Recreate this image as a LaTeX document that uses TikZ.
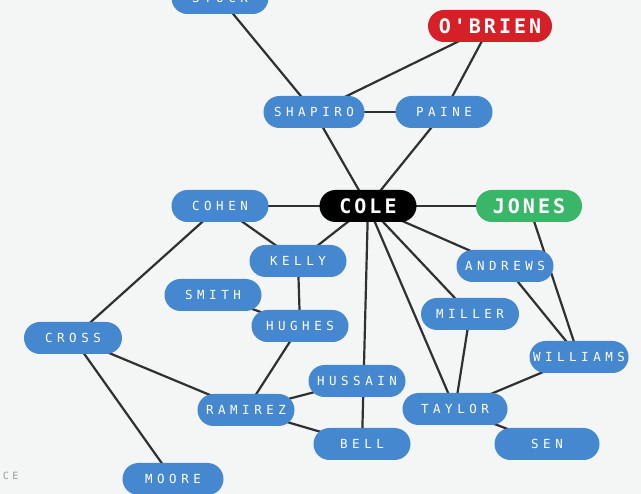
\documentclass[tikz,border=0pt]{standalone}
\usepackage{fontspec}
\usetikzlibrary{backgrounds}
\newfontfamily\pxfont[LetterSpace=36]{DejaVu Sans Mono}
\newfontfamily\pxbig[LetterSpace=15]{DejaVu Sans Mono}
\definecolor{bgc}{RGB}{244,246,246}
\definecolor{nblue}{RGB}{70,136,208}
\definecolor{nred}{RGB}{214,32,40}
\definecolor{ngreen}{RGB}{58,182,104}
\definecolor{lnk}{RGB}{48,48,48}

\begin{document}
\begin{tikzpicture}[
  x=1pt, y=-1pt,
  pn/.style={fill=nblue, text=white, rounded corners=16pt, inner sep=0pt,
    minimum width=97pt, minimum height=32pt,
    font=\pxfont\fontsize{12.5}{12.5}\selectfont},
  hub/.style={pn, font=\pxbig\bfseries\fontsize{20}{20}\selectfont},
  lk/.style={draw=lnk, line width=2.2pt}]

\useasboundingbox (0,0) rectangle (641,494);
\clip (0,0) rectangle (641,494);

% ===== top =====
\node[pn] (stock)  at (220,-2)  {STOCK};
\node[hub, fill=nred, minimum width=124pt] (obrien) at (490,26) {O'BRIEN};
\node[pn, minimum width=101pt] (shapiro) at (314,112) {SHAPIRO};
\node[pn] (paine)  at (444,112) {PAINE};

% ===== middle row =====
\node[hub, fill=black] (cole) at (368,206) {COLE};
\node[hub, fill=ngreen, minimum width=106pt] (jones) at (529,206) {JONES};
\node[pn] (cohen)  at (220,206) {COHEN};

% ===== left side =====
\node[pn] (kelly)  at (298,261) {KELLY};
\node[pn] (smith)  at (213,295) {SMITH};
\node[pn] (hughes) at (300,326) {HUGHES};
\node[pn, minimum width=98pt] (cross) at (73,338) {CROSS};
\node[pn] (hussain) at (357,381) {HUSSAIN};
\node[pn] (ramirez) at (246,410) {RAMIREZ};
\node[pn] (bell)   at (362,444) {BELL};
\node[pn, minimum width=101pt] (moore) at (173,479) {MOORE};

% ===== right side =====
\node[pn] (andrews)  at (505,266) {ANDREWS};
\node[pn, minimum width=98pt] (miller) at (470,314) {MILLER};
\node[pn, minimum width=99pt] (williams) at (579,357) {WILLIAMS};
\node[pn, minimum width=105pt] (taylor) at (455,409) {TAYLOR};
\node[pn, minimum width=105pt] (sen) at (547,444) {SEN};

\node[text=black!40, font=\pxfont\fontsize{10}{10}\selectfont, anchor=east]
  (src) at (22,476) {CE};

% ===== edges =====
\begin{scope}[on background layer]
\fill[bgc] (0,0) rectangle (641,494);
\draw[lk] (stock.center) -- (shapiro.center);
\draw[lk] (shapiro.center) -- (obrien.center);
\draw[lk] (paine.center) -- (obrien.center);
\draw[lk] (shapiro.center) -- (paine.center);
\draw[lk] (shapiro.center) -- (cole.center);
\draw[lk] (paine.center) -- (cole.center);
\draw[lk] (cohen.center) -- (cole.center);
\draw[lk] (cole.center) -- (jones.center);
\draw[lk] (cohen.center) -- (kelly.center);
\draw[lk] (cole.center) -- (kelly.center);
\draw[lk] (cohen.center) -- (cross.center);
\draw[lk] (kelly.center) -- (hughes.center);
\draw[lk] (smith.center) -- (hughes.center);
\draw[lk] (cole.center) -- (andrews.center);
\draw[lk] (cole.center) -- (miller.center);
\draw[lk] (cole.center) -- (taylor.center);
\draw[lk] (cole.center) -- (bell.center);
\draw[lk] (jones.center) -- (williams.center);
\draw[lk] (andrews.center) -- (williams.center);
\draw[lk] (miller.center) -- (taylor.center);
\draw[lk] (williams.center) -- (taylor.center);
\draw[lk] (taylor.center) -- (sen.center);
\draw[lk] (hughes.center) -- (ramirez.center);
\draw[lk] (cross.center) -- (ramirez.center);
\draw[lk] (cross.center) -- (moore.center);
\draw[lk] (ramirez.center) -- (hussain.center);
\draw[lk] (ramirez.center) -- (bell.center);
\end{scope}

\end{tikzpicture}
\end{document}
